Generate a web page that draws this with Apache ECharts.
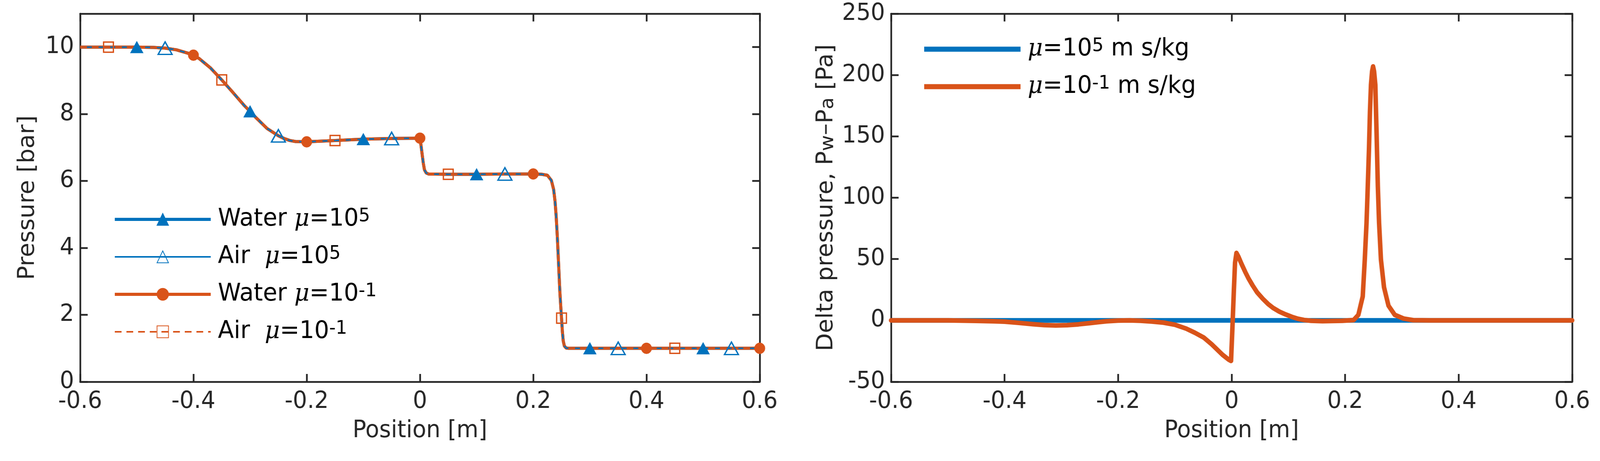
<!DOCTYPE html>
<html><head><meta charset="utf-8">
<script src="https://cdn.jsdelivr.net/npm/echarts@6/dist/echarts.min.js"></script>
<style>html,body{margin:0;padding:0;background:#fff;overflow:hidden}#c{width:4252px;height:1181px;transform-origin:0 0}</style>
</head><body><div id="c"></div>
<script>
// ---- Left panel: pressure profile [bar] vs position [m]
const position = [-0.6,-0.55,-0.5,-0.47,-0.45,-0.43,-0.41,-0.4,-0.39,-0.37,-0.35,-0.33,-0.31,-0.3,-0.29,-0.27,-0.25,-0.24,-0.23,-0.22,-0.2,-0.15,-0.1,-0.05,0,0.002,0.004,0.006,0.008,0.011,0.015,0.05,0.1,0.15,0.2,0.215,0.225,0.232,0.236,0.2385,0.2405,0.2425,0.245,0.247,0.249,0.25,0.2515,0.253,0.255,0.258,0.262,0.3,0.35,0.4,0.45,0.5,0.55,0.6];
const pressure = [10,10,10,9.99,9.97,9.92,9.82,9.76,9.66,9.38,9.02,8.64,8.25,8.08,7.9,7.57,7.35,7.27,7.21,7.18,7.17,7.21,7.25,7.27,7.28,7.05,6.78,6.52,6.33,6.24,6.21,6.2,6.2,6.21,6.21,6.2,6.17,6.02,5.75,5.4,4.95,4.35,3.45,2.7,2.15,1.9,1.5,1.22,1.07,1.01,1.0,1.0,1.0,1.0,1.0,1.0,1.0,1.0];
const markersWater5 = [-0.5,-0.3,-0.1,0.1,0.3,0.5];
const markersAir5 = [-0.45,-0.25,-0.05,0.15,0.35,0.55];
const markersWater1 = [-0.4,-0.2,0,0.2,0.4,0.6];
const markersAir1 = [-0.55,-0.35,-0.15,0.05,0.25,0.45];

// ---- Right panel: delta pressure Pw - Pa [Pa] vs position [m]
const deltaX = [-0.6,-0.5,-0.47,-0.45,-0.42,-0.4,-0.375,-0.35,-0.33,-0.31,-0.29,-0.27,-0.25,-0.235,-0.22,-0.2,-0.18,-0.16,-0.14,-0.12,-0.1,-0.08,-0.065,-0.049,-0.035,-0.016,-0.005,-0.001,0.0015,0.004,0.006,0.0085,0.012,0.017,0.024,0.03,0.037,0.045,0.055,0.064,0.073,0.084,0.095,0.106,0.117,0.128,0.14,0.16,0.195,0.215,0.2233,0.231,0.2346,0.2377,0.2399,0.242,0.2437,0.2455,0.2475,0.2492,0.251,0.2532,0.2553,0.2576,0.2598,0.2631,0.2685,0.2764,0.2875,0.303,0.32,0.35,0.6];
const deltaMu1 = [0,0,-0.2,-0.4,-0.7,-1.0,-2.0,-3.1,-3.8,-4.1,-3.9,-3.2,-2.2,-1.4,-0.7,-0.1,0,-0.3,-0.9,-1.8,-3.5,-6.7,-10,-14,-19.5,-28,-32,-33,-5,25,47,55,52,46.5,39.5,34,28.5,22.8,17.6,13.5,10.2,7.2,4.9,2.9,1.3,0.3,-0.3,-0.6,-0.3,0.3,4.5,19.5,49.5,79.5,109.6,139.6,169.6,192,203,207,203,192,154.6,109.6,79.5,49.5,27,12,4.5,1.5,0.2,0,0];
const deltaXMu5 = [-0.6,0,0.6];
const deltaMu5 = [0,0,0];

const BLUE = '#0072BD', ORANGE = '#D95319', AXC = '#262626';

// The design is laid out on a 4252x1181 canvas; fit it to the actual viewport.
const el = document.getElementById('c');
el.style.transform = 'scale(' + (window.innerWidth / 4252) + ',' + (window.innerHeight / 1181) + ')';

function withMarkers(xs, ys, marks) {
  return xs.map((x, i) => marks.some(m => Math.abs(m - x) < 1e-9) ? [x, ys[i]] : {value: [x, ys[i]], symbol: 'none'});
}
function pairs(xs, ys) { return xs.map((x, i) => [x, ys[i]]); }

const richLegend = {
  g: {width: 14, fontSize: 62, lineHeight: 62, verticalAlign: 'bottom'},
  a: {fontFamily: 'DejaVu Sans', fontSize: 62, lineHeight: 62, verticalAlign: 'bottom', color: '#000'},
  m: {fontFamily: 'DejaVu Serif', fontStyle: 'italic', fontSize: 62, lineHeight: 62, verticalAlign: 'bottom', color: '#000'},
  s: {fontFamily: 'DejaVu Sans', fontSize: 48, lineHeight: 48, verticalAlign: 'top', padding: [0, 0, 46, 0], color: '#000'}
};
const legendLabels = {
  w5: '{g| }{a|Water }{m|μ}{a|=10}{s|5}',
  a5: '{g| }{a|Air  }{m|μ}{a|=10}{s|5}',
  w1: '{g| }{a|Water }{m|μ}{a|=10}{s|-1}',
  a1: '{g| }{a|Air  }{m|μ}{a|=10}{s|-1}',
  d5: '{g| }{m|μ}{a|=10}{s|5}{a| m s/kg}',
  d1: '{g| }{m|μ}{a|=10}{s|-1}{a| m s/kg}'
};
const LEG_H = 94; // rich text block height (48 + 46)

const tickFont = {fontFamily: 'DejaVu Sans', fontSize: 60, color: AXC};
function xAx(gi, pos, show) {
  return {
    type: 'value', gridIndex: gi, position: pos, min: -0.6, max: 0.6, interval: 0.2,
    axisLine: {show: true, onZero: false, lineStyle: {color: AXC, width: 4.5}},
    axisTick: {show: true, inside: true, length: 20, lineStyle: {color: AXC, width: 4.5}},
    axisLabel: Object.assign({show: show, margin: 21}, tickFont),
    splitLine: {show: false},
    name: show ? 'Position [m]' : '', nameLocation: 'middle', nameGap: 96,
    nameTextStyle: {fontFamily: 'DejaVu Sans', fontSize: 60, color: AXC}
  };
}
function yAx(gi, pos, show, min, max, interval, name, gap, rich) {
  return {
    type: 'value', gridIndex: gi, position: pos, min: min, max: max, interval: interval,
    axisLine: {show: true, onZero: false, lineStyle: {color: AXC, width: 4.5}},
    axisTick: {show: true, inside: true, length: 20, lineStyle: {color: AXC, width: 4.5}},
    axisLabel: Object.assign({show: show, margin: 16, showMaxLabel: max === 11 ? false : null}, tickFont),
    splitLine: {show: false},
    name: show ? name : '', nameLocation: 'middle', nameGap: gap || 0,
    nameTextStyle: Object.assign({fontFamily: 'DejaVu Sans', fontSize: 60, color: AXC}, rich ? {rich: rich} : {})
  };
}

const yNameRich = {
  n: {fontFamily: 'DejaVu Sans', fontSize: 60, lineHeight: 60, verticalAlign: 'top', color: AXC},
  u: {fontFamily: 'DejaVu Sans', fontSize: 50, lineHeight: 50, verticalAlign: 'bottom', padding: [40, 0, 0, 0], color: AXC}
};

const chart = echarts.init(el, null, {renderer: 'canvas', width: 4252, height: 1181});
chart.setOption({
  animation: false,
  backgroundColor: '#fff',
  grid: [
    {left: 213, width: 1806, top: 35, height: 943, containLabel: false, outerBoundsMode: 'none'},
    {left: 2368, width: 1810, top: 35, height: 943, containLabel: false, outerBoundsMode: 'none'}
  ],
  xAxis: [xAx(0, 'bottom', true), xAx(0, 'top', false), xAx(1, 'bottom', true), xAx(1, 'top', false)],
  yAxis: [
    yAx(0, 'left', true, 0, 11, 2, 'Pressure [bar]', 109),
    yAx(0, 'right', false, 0, 11, 2, ''),
    yAx(1, 'left', true, -50, 250, 50, '{n|Delta pressure, P}{u|w}{n|–P}{u|a}{n| [Pa]}', 142, yNameRich),
    yAx(1, 'right', false, -50, 250, 50, '')
  ],
  legend: [
    {
      orient: 'vertical', left: 301, top: 578 - LEG_H / 2, padding: 0, itemWidth: 255, itemHeight: 38, itemGap: 96 - LEG_H,
      selectedMode: false,
      data: [
        {name: 'w5', lineStyle: {color: BLUE, width: 8}},
        {name: 'a5', lineStyle: {color: BLUE, width: 4}},
        {name: 'w1', lineStyle: {color: ORANGE, width: 8}},
        {name: 'a1', lineStyle: {color: ORANGE, width: 4, type: [18, 13]}}
      ],
      formatter: n => legendLabels[n], textStyle: {rich: richLegend}
    },
    {
      orient: 'vertical', left: 2456, top: 142 - LEG_H / 2, padding: 0, itemWidth: 256, itemHeight: 13, itemGap: 96 - LEG_H,
      selectedMode: false, data: [{name: 'd5', icon: 'rect'}, {name: 'd1', icon: 'rect'}],
      formatter: n => legendLabels[n], textStyle: {rich: richLegend}
    }
  ],
  series: [
    {
      name: 'w5', type: 'line', xAxisIndex: 0, yAxisIndex: 0, data: withMarkers(position, pressure, markersWater5),
      symbol: 'triangle', symbolSize: [34, 30], showSymbol: true,
      lineStyle: {color: BLUE, width: 8}, itemStyle: {color: BLUE, borderColor: BLUE, borderWidth: 1}
    },
    {
      name: 'w1', type: 'line', xAxisIndex: 0, yAxisIndex: 0, data: withMarkers(position, pressure, markersWater1),
      symbol: 'circle', symbolSize: 28, showSymbol: true, clip: false,
      lineStyle: {color: ORANGE, width: 8}, itemStyle: {color: ORANGE, borderColor: ORANGE, borderWidth: 1}
    },
    {
      name: 'a5', type: 'line', xAxisIndex: 0, yAxisIndex: 0, data: withMarkers(position, pressure, markersAir5),
      symbol: 'triangle', symbolSize: [37, 32], showSymbol: true,
      lineStyle: {color: BLUE, width: 4}, itemStyle: {color: 'rgba(0,0,0,0)', borderColor: BLUE, borderWidth: 3.5}
    },
    {
      name: 'a1', type: 'line', xAxisIndex: 0, yAxisIndex: 0, data: withMarkers(position, pressure, markersAir1),
      symbol: 'rect', symbolSize: 26, showSymbol: true,
      lineStyle: {color: ORANGE, width: 4, type: [18, 13]}, itemStyle: {color: 'rgba(0,0,0,0)', borderColor: ORANGE, borderWidth: 3.5}
    },
    {
      name: 'd5', type: 'line', xAxisIndex: 2, yAxisIndex: 2, data: pairs(deltaXMu5, deltaMu5),
      symbol: 'none', lineStyle: {color: BLUE, width: 12}, itemStyle: {color: BLUE}
    },
    {
      name: 'd1', type: 'line', xAxisIndex: 2, yAxisIndex: 2, data: pairs(deltaX, deltaMu1),
      symbol: 'none', lineStyle: {color: ORANGE, width: 12, join: 'round', cap: 'round'}, itemStyle: {color: ORANGE}
    }
  ]
});
</script></body></html>
